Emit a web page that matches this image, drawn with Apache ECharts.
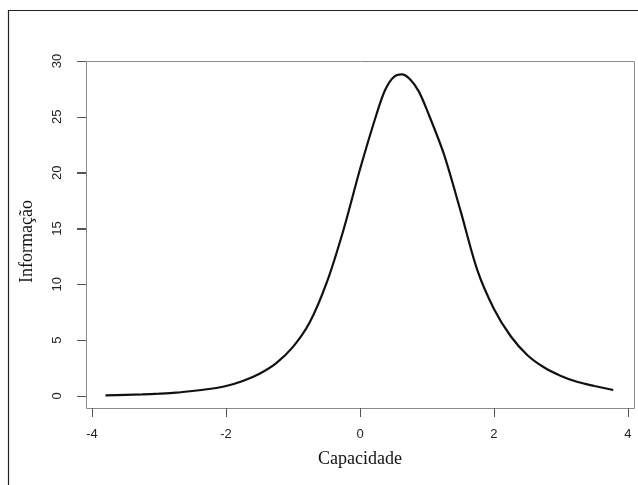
<!DOCTYPE html>
<html>
<head>
<meta charset="utf-8">
<script src="https://cdn.jsdelivr.net/npm/echarts@6/dist/echarts.min.js"></script>
<style>html,body{margin:0;padding:0;background:#fff;}#c{width:638px;height:485px;}</style>
</head>
<body>
<div id="c"></div>
<script>
// Data
const capacidade = [-3.8, -3.5, -3.25, -3.0, -2.75, -2.5, -2.25, -2.0, -1.75, -1.5, -1.25, -1.0, -0.75, -0.5, -0.25, 0.0, 0.25, 0.375, 0.5, 0.625, 0.75, 0.875, 1.0, 1.25, 1.5, 1.75, 2.0, 2.25, 2.5, 2.75, 3.0, 3.25, 3.5, 3.78];
const informacao = [0.05, 0.10, 0.14, 0.21, 0.30, 0.45, 0.63, 0.90, 1.35, 2.0, 2.95, 4.4, 6.6, 10.1, 14.8, 20.3, 25.3, 27.4, 28.55, 28.8, 28.35, 27.3, 25.6, 21.7, 16.6, 11.3, 7.8, 5.35, 3.65, 2.55, 1.8, 1.25, 0.9, 0.54];
const xTicks = [-4, -2, 0, 2, 4];
const yTicks = [0, 5, 10, 15, 20, 25, 30];

const points = capacidade.map((x, i) => [x, informacao[i]]);
const chart = echarts.init(document.getElementById('c'), null, {renderer: 'canvas'});
chart.setOption({
  animation: false,
  backgroundColor: '#fff',
  graphic: [{
    id: 'frame', type: 'rect', silent: true,
    shape: {x: 8.5, y: 10.5, width: 700, height: 600},
    style: {fill: 'none', stroke: '#222', lineWidth: 1.2}
  }, {
    id: 'box', type: 'rect', silent: true,
    shape: {x: 86.5, y: 61.5, width: 548, height: 347},
    style: {fill: 'none', stroke: '#8a8a8a', lineWidth: 1}
  }],
  grid: {left: 86, top: 61, width: 548, height: 335, show: false},
  xAxis: {
    type: 'value', min: -4.09, max: 4.09, offset: 12,
    name: 'Capacidade', nameLocation: 'middle', nameGap: 42,
    nameTextStyle: {fontFamily: 'Liberation Serif', fontSize: 18, color: '#111'},
    axisLine: {show: false, onZero: false},
    axisTick: {show: true, customValues: xTicks, length: 9, lineStyle: {color: '#555', width: 1}},
    axisLabel: {customValues: xTicks, margin: 20, fontFamily: 'Liberation Sans', fontSize: 13, color: '#222'},
    splitLine: {show: false}
  },
  yAxis: {
    type: 'value', min: 0, max: 30, interval: 5,
    name: 'Informação', nameLocation: 'middle', nameGap: 50,
    nameTextStyle: {fontFamily: 'Liberation Serif', fontSize: 18, color: '#111', padding: [0, 26, 0, 0]},
    axisLine: {show: false, onZero: false},
    axisTick: {show: true, length: 9, lineStyle: {color: '#555', width: 1}},
    axisLabel: {rotate: 90, margin: 22, fontFamily: 'Liberation Sans', fontSize: 13, color: '#222'},
    splitLine: {show: false}
  },
  series: [{
    type: 'line', data: points, showSymbol: false, smooth: 0.3,
    lineStyle: {color: '#111', width: 2.2}
  }, {
    type: 'custom', clip: false, silent: true,
    data: yTicks.map(v => [-4.09, v]),
    renderItem: function (params, api) {
      const p = api.coord([api.value(0), api.value(1)]);
      const y = Math.round(p[1]) + 0.5;
      return {
        type: 'line',
        shape: {x1: p[0] - 9, y1: y, x2: p[0], y2: y},
        style: {stroke: '#555', lineWidth: 1}
      };
    }
  }]
});
</script>
</body>
</html>
